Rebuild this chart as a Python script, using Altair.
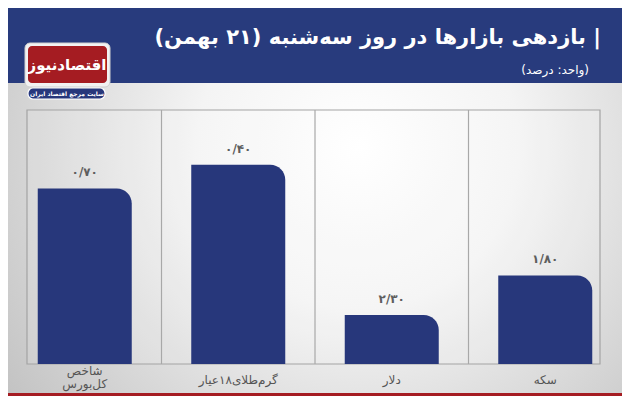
import altair as alt
import pandas as pd

# ---- data (left to right as drawn) ----
categories = ["شاخص\nکل‌بورس", "گرم‌طلای۱۸عیار", "دلار", "سکه"]
values = [0.70, 0.40, 2.30, 1.80]

title_text = "بازدهی بازارها در روز سه‌شنبه (۲۱ بهمن) |"
subtitle_text = "(واحد: درصد)"
logo_text = "اقتصادنیوز"
logo_tagline = "سایت مرجع اقتصاد ایران"

FA_DIGITS = str.maketrans("0123456789.", "۰۱۲۳۴۵۶۷۸۹/")


def fa(v):
    return f"{v:.2f}".translate(FA_DIGITS)


df = pd.DataFrame({
    "cat": categories,
    "value": values,
    "label": [fa(v) for v in values],
})
df["multi"] = df["cat"].str.contains("\n")
one = pd.DataFrame({"k": [0]})

W, H = 614, 388
FONT = "DejaVu Sans"
BAR_BLUE = "#27377b"
HEAD_BLUE = "#283b7d"
RED = "#a51c22"
FLOOR = 2.92

xscale = alt.Scale(domain=categories, paddingInner=0, paddingOuter=0)
yscale = alt.Scale(domain=[0, FLOOR], range=[125, 356])


def box(x, x2, y, y2, **mk):
    return alt.Chart(one).mark_rect(**mk).encode(
        x=alt.value(x), x2=alt.value(x2), y=alt.value(y), y2=alt.value(y2)
    )


def label(text, x, y, **mk):
    return alt.Chart(pd.DataFrame({"t": [text]})).mark_text(font=FONT, **mk).encode(
        x=alt.value(x), y=alt.value(y), text="t:N"
    )


background = box(0, W, 75, H, fill={
    "gradient": "radial",
    "x1": 0.57, "y1": 0.35, "r1": 0.0,
    "x2": 0.57, "y2": 0.35, "r2": 0.75,
    "stops": [
        {"offset": 0.0, "color": "#ffffff"},
        {"offset": 0.35, "color": "#f4f4f4"},
        {"offset": 1.0, "color": "#bdbdbd"},
    ],
})
header = box(0, W, 0, 75, fill=HEAD_BLUE)
bottom_strip = box(0, W, 385, H, fill=RED)

panel = box(19, 592, 102, 356, fill="#ffffff", fillOpacity=0.12,
            stroke="#a3a3a3", strokeWidth=1.2)

separators = alt.Chart(df.iloc[1:]).mark_rule(color="#a8a8a8", strokeWidth=1.2).encode(
    x=alt.X("cat:N", scale=xscale, axis=None, bandPosition=0),
    y=alt.value(102), y2=alt.value(356),
)

bars = alt.Chart(df).mark_bar(size=94, color=BAR_BLUE, cornerRadiusTopRight=15).encode(
    x=alt.X("cat:N", scale=xscale, axis=None),
    y=alt.Y("value:Q", scale=yscale, axis=None),
    y2=alt.datum(FLOOR),
)

value_labels = alt.Chart(df).mark_text(
    font=FONT, fontSize=12, fontWeight="bold", color="#5e5e5e",
    baseline="bottom", dy=-9,
).encode(
    x=alt.X("cat:N", scale=xscale, axis=None),
    y=alt.Y("value:Q", scale=yscale, axis=None),
    text="label:N",
)

cat_single = alt.Chart(df[~df["multi"]]).mark_text(
    font=FONT, fontSize=12, color="#555555", baseline="middle",
).encode(
    x=alt.X("cat:N", scale=xscale, axis=None),
    y=alt.value(372),
    text="cat:N",
)

cat_multi = alt.Chart(df[df["multi"]]).mark_text(
    font=FONT, fontSize=12, color="#555555", baseline="top", lineBreak="\n",
    lineHeight=13,
).encode(
    x=alt.X("cat:N", scale=xscale, axis=None),
    y=alt.value(358),
    text="cat:N",
)

title = label(title_text, 593, 30, fontSize=21, fontWeight="bold", color="#ffffff",
              align="right", baseline="middle")
subtitle = label(subtitle_text, 581, 62, fontSize=12, color="#ffffff",
                 align="right", baseline="middle")

logo_frame = box(17, 102, 35, 79, fill="#f2f2f2", cornerRadius=5,
                 stroke="#cfcfcf", strokeWidth=1)
logo_red = box(20, 99, 38, 75, fill=RED, cornerRadius=4)
logo_pill = box(20, 97, 80, 91, fill=BAR_BLUE, cornerRadius=5,
                stroke="#ffffff", strokeWidth=1.2)
logo_name = label(logo_text, 59, 57, fontSize=15, fontWeight="bold", color="#ffffff",
                  align="center", baseline="middle")
logo_tag = label(logo_tagline, 59, 86, fontSize=6, fontWeight="bold", color="#ffffff",
                 align="center", baseline="middle")

chart = alt.layer(
    background, header, bottom_strip, panel, separators, bars, value_labels,
    cat_single, cat_multi, title, subtitle, logo_frame, logo_red, logo_pill,
    logo_name, logo_tag,
).properties(
    width=W, height=H,
    autosize=alt.AutoSizeParams(type="none"),
    padding=0,
    background="#ffffff",
).configure_view(stroke=None)

chart.save("out.html", embed_options={"renderer": "svg", "actions": False})
